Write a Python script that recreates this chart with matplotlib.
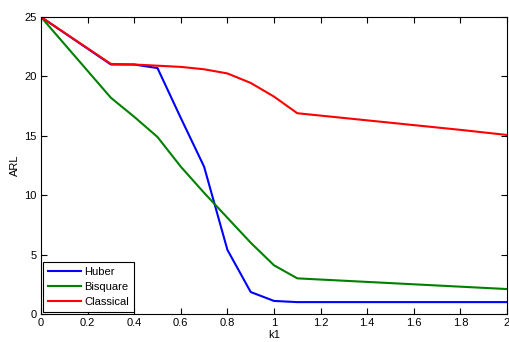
import matplotlib
matplotlib.use("Agg")
import matplotlib.pyplot as plt

k1 = [0, 0.3, 0.4, 0.5, 0.6, 0.7, 0.8, 0.9, 1.0, 1.1, 1.2, 1.4, 1.6, 1.8, 2.0]
huber = [25, 21.0, 21.0, 20.7, 16.5, 12.4, 5.4, 1.85, 1.1, 1.0, 1.0, 1.0, 1.0, 1.0, 1.0]
bisquare = [25, 18.2, 16.6, 14.9, 12.4, 10.2, 8.1, 6.0, 4.1, 3.0, 2.9, 2.7, 2.5, 2.3, 2.1]
classical = [25, 21.05, 21.0, 20.9, 20.8, 20.6, 20.25, 19.45, 18.3, 16.9, 16.7, 16.3, 15.9, 15.5, 15.07]

plt.rcParams['font.family'] = ['Liberation Sans', 'DejaVu Sans']
fig = plt.figure(figsize=(5.09, 3.42), dpi=100)
ax = fig.add_axes([41/509, 1-314/342, (507-41)/509, (314-17)/342])

ax.plot(k1, huber, color='#0000ff', lw=1.5, label='Huber')
ax.plot(k1, bisquare, color='#008000', lw=1.5, label='Bisquare')
ax.plot(k1, classical, color='#ff0000', lw=1.5, label='Classical')

ax.set_xlim(0, 2)
ax.set_ylim(0, 25)
ax.set_xticks([0, 0.2, 0.4, 0.6, 0.8, 1, 1.2, 1.4, 1.6, 1.8, 2])
ax.set_xticklabels(['0', '0.2', '0.4', '0.6', '0.8', '1', '1.2', '1.4', '1.6', '1.8', '2'])
ax.set_yticks([0, 5, 10, 15, 20, 25])
ax.tick_params(direction='in', top=True, right=True, length=4, width=0.8, labelsize=8, pad=3)
for s in ax.spines.values():
    s.set_linewidth(0.8)
ax.set_xlabel('k1', fontsize=8, labelpad=1)
ax.set_ylabel('ARL', fontsize=8, labelpad=3)

leg = ax.legend(loc='lower left', fontsize=8, frameon=True, fancybox=False,
                edgecolor='black', framealpha=1, borderaxespad=0.15,
                handlelength=3.0, handletextpad=0.3, labelspacing=0.45, borderpad=0.45)
leg.get_frame().set_linewidth(0.8)

fig.savefig('out.png', dpi=100)
